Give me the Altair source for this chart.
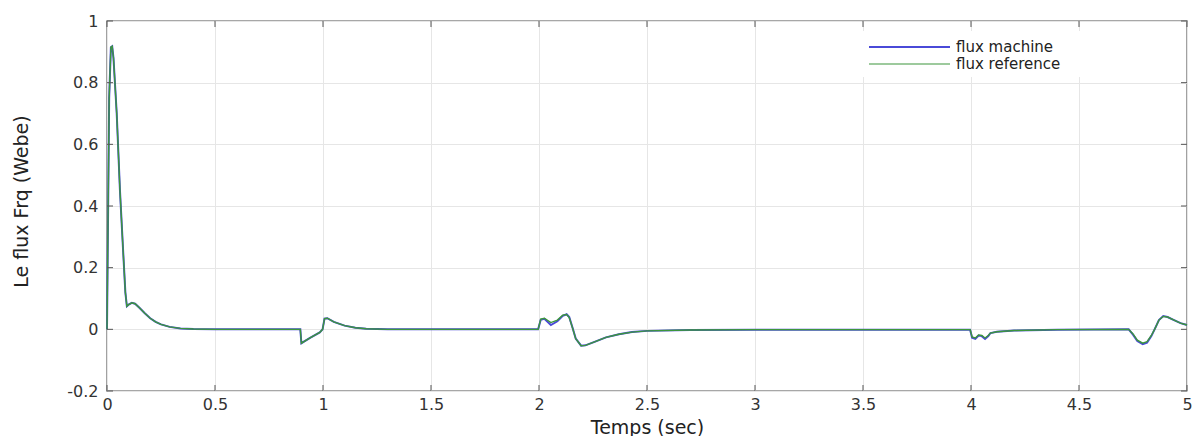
import altair as alt
import pandas as pd

# Simulation time (s) and flux traces (Wb)
time_s = [
    0.000, 0.004, 0.010, 0.018, 0.024, 0.030, 0.045, 0.060, 0.075, 0.085,
    0.092, 0.100, 0.115, 0.130, 0.150, 0.175, 0.200, 0.225, 0.250, 0.290,
    0.340, 0.400, 0.500, 0.895, 0.900, 0.940, 0.985, 0.998, 1.007, 1.020,
    1.050, 1.100, 1.150, 1.200, 1.300, 1.996, 2.008, 2.025, 2.055, 2.085,
    2.110, 2.128, 2.140, 2.155, 2.170, 2.195, 2.215, 2.260, 2.310, 2.370,
    2.430, 2.500, 2.700, 3.000, 3.996, 4.005, 4.020, 4.035, 4.050, 4.065,
    4.080, 4.090, 4.120, 4.200, 4.400, 4.730, 4.750, 4.770, 4.795, 4.815,
    4.835, 4.850, 4.870, 4.890, 4.910, 4.940, 4.970, 5.000,
]

flux_reference = [
    0.000, 0.300, 0.750, 0.915, 0.918, 0.880, 0.700, 0.450, 0.250, 0.120,
    0.075, 0.080, 0.086, 0.083, 0.070, 0.052, 0.036, 0.024, 0.016, 0.008,
    0.003, 0.001, 0.000, 0.000, -0.045, -0.028, -0.010, 0.000, 0.035, 0.036,
    0.024, 0.012, 0.005, 0.002, 0.000, 0.000, 0.033, 0.036, 0.022, 0.030,
    0.046, 0.048, 0.038, 0.005, -0.030, -0.053, -0.052, -0.040, -0.026, -0.016,
    -0.009, -0.005, -0.002, -0.001, -0.001, -0.025, -0.028, -0.018, -0.020, -0.028,
    -0.020, -0.012, -0.008, -0.004, -0.001, 0.000, -0.015, -0.035, -0.045, -0.040,
    -0.020, 0.000, 0.030, 0.042, 0.040, 0.030, 0.020, 0.014,
]

flux_machine = [
    0.000, 0.300, 0.750, 0.915, 0.918, 0.880, 0.700, 0.450, 0.250, 0.120,
    0.075, 0.080, 0.086, 0.083, 0.070, 0.052, 0.036, 0.024, 0.016, 0.008,
    0.003, 0.001, 0.000, 0.000, -0.045, -0.028, -0.010, 0.000, 0.035, 0.036,
    0.024, 0.012, 0.005, 0.002, 0.000, 0.000, 0.031, 0.034, 0.014, 0.026,
    0.044, 0.049, 0.040, 0.006, -0.030, -0.053, -0.052, -0.040, -0.026, -0.016,
    -0.009, -0.005, -0.002, -0.001, -0.001, -0.027, -0.031, -0.020, -0.022, -0.031,
    -0.022, -0.012, -0.008, -0.004, -0.001, 0.000, -0.017, -0.038, -0.048, -0.043,
    -0.022, 0.000, 0.030, 0.043, 0.040, 0.030, 0.020, 0.014,
]

series_names = ["flux machine", "flux reference"]
series_colors = ["#4a4ad8", "#3c963c"]
series_widths = [2.0, 1.4]
legend_widths = [2.2, 1.1]

x_ticks = [0, 0.5, 1, 1.5, 2, 2.5, 3, 3.5, 4, 4.5, 5]
y_ticks = [-0.2, 0, 0.2, 0.4, 0.6, 0.8, 1]

W, H = 1080, 370
FONT = "DejaVu Sans"

xt = pd.DataFrame({"t": x_ticks})
yt = pd.DataFrame({"v": y_ticks})

xenc = alt.X(
    "t:Q",
    scale=alt.Scale(domain=[0, 5], nice=False, zero=False),
    axis=alt.Axis(
        values=x_ticks, format="~g", title="Temps (sec)", grid=True,
        labelPadding=5, labelFlush=False, titleY=42,
        titleBaseline="alphabetic",
    ),
)
yenc = alt.Y(
    "v:Q",
    scale=alt.Scale(domain=[-0.2, 1], nice=False, zero=False),
    axis=alt.Axis(
        values=y_ticks, title="Le flux Frq (Webe)", grid=True,
        labelExpr="replace(format(datum.value, '~g'), '\u2212', '-')",
        labelPadding=9, labelFlush=False, titleX=-86, titleY=180,
        titleAlign="center", titleBaseline="middle",
    ),
)

# one line per series, machine first so the reference trace sits on top
traces = []
for name, values, col, sw in zip(series_names, [flux_machine, flux_reference],
                                 series_colors, series_widths):
    d = pd.DataFrame({"t": time_s, "v": values})
    traces.append(
        alt.Chart(d).mark_line(color=col, strokeWidth=sw).encode(x=xenc, y=yenc)
    )

# inward tick marks on all four sides of the box
tick_style = dict(color="#555555", strokeWidth=1)
ticks = [
    alt.Chart(xt).mark_rule(**tick_style).encode(x=xenc, y=alt.value(H), y2=alt.value(H - 6)),
    alt.Chart(xt).mark_rule(**tick_style).encode(x=xenc, y=alt.value(0), y2=alt.value(6)),
    alt.Chart(yt).mark_rule(**tick_style).encode(y=yenc, x=alt.value(0), x2=alt.value(6)),
    alt.Chart(yt).mark_rule(**tick_style).encode(y=yenc, x=alt.value(W), x2=alt.value(W - 6)),
]

# legend box in the upper right corner
legend_box = pd.DataFrame({"k": [0]})
legend = [
    alt.Chart(legend_box).mark_rect(color="white").encode(
        x=alt.value(750), x2=alt.value(1004), y=alt.value(10), y2=alt.value(56))
]
row_y = [26, 43]
for name, col, lw, ry in zip(series_names, series_colors, legend_widths, row_y):
    row = pd.DataFrame({"label": [name]})
    legend.append(
        alt.Chart(row).mark_rule(color=col, strokeWidth=lw).encode(
            x=alt.value(762), x2=alt.value(843), y=alt.value(ry))
    )
    legend.append(
        alt.Chart(row).mark_text(
            align="left", baseline="middle", font=FONT, fontSize=15, color="#222222"
        ).encode(text="label:N", x=alt.value(849), y=alt.value(ry))
    )

chart = alt.layer(*traces, *ticks, *legend).properties(
    width=W, height=H,
    autosize=alt.AutoSizeParams(type="none"),
    padding={"left": 107, "top": 21, "right": 14, "bottom": 45},
    background="white",
).configure_view(
    stroke="#8a8a8a", strokeWidth=1.6,
).configure_axis(
    domain=False, ticks=False, gridColor="#e6e6e6", gridWidth=1,
    labelFont=FONT, labelFontSize=16, labelColor="#333333",
    titleFont=FONT, titleFontSize=19, titleFontWeight="normal", titleColor="#222222",
)

chart.save("out.html", embed_options={"renderer": "svg", "actions": False})
